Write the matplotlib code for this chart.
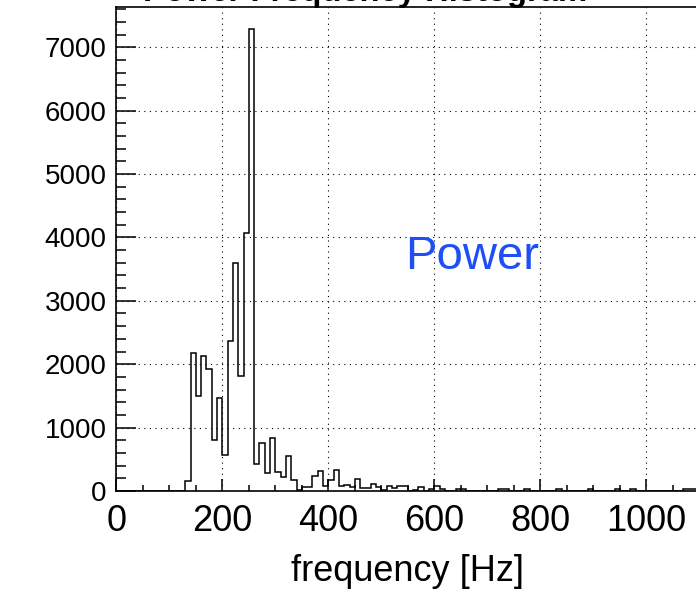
# Power frequency histogram (ROOT style)
import numpy as np
import matplotlib
matplotlib.use('Agg')
import matplotlib.pyplot as plt
from matplotlib.ticker import MultipleLocator

plt.rcParams['font.family'] = ['Liberation Sans', 'DejaVu Sans']

# histogram: 10 Hz bins starting at 0 Hz
bin_width = 10
counts = [
    0, 0, 0, 0, 0, 0, 0, 0, 0, 0,                 # 0-100
    0, 0, 0, 150, 2170, 1500, 2130, 1930, 800, 1460,  # 100-200
    570, 2370, 3590, 1820, 4070, 7290, 420, 750, 290, 840,  # 200-300
    305, 216, 553, 180, 20, 70, 70, 238, 317, 80,  # 300-400
    170, 333, 80, 96, 60, 196, 45, 45, 107, 70,   # 400-500
    17, 80, 45, 80, 80, 0, 17, 60, 0, 30,         # 500-600
    80, 30, 0, 0, 30, 30, 0, 0, 0, 0,             # 600-700
    0, 0, 25, 25, 0, 0, 0, 25, 0, 0,              # 700-800
    0, 0, 0, 30, 0, 0, 0, 0, 0, 30,               # 800-900
    0, 0, 0, 0, 25, 0, 0, 25, 0, 0,               # 900-1000
    0, 0, 0, 0, 0, 0, 0, 30, 30, 30,              # 1000-1100
]
edges = np.arange(len(counts) + 1) * bin_width

title = "Power Frequency Histogram"
x_label = "frequency [Hz]"
legend_text = "Power"

fig = plt.figure(figsize=(6.96, 5.90), dpi=100)
ax = fig.add_axes([116.3 / 696, 1 - 491 / 590, 583 / 696, 484 / 590])

ax.stairs(counts, edges, color='black', lw=1.1, baseline=0)

ax.set_xlim(0, 1100)
ax.set_ylim(0, 7634)

# ticks
ax.xaxis.set_major_locator(MultipleLocator(200))
ax.xaxis.set_minor_locator(MultipleLocator(50))
ax.yaxis.set_major_locator(MultipleLocator(1000))
ax.yaxis.set_minor_locator(MultipleLocator(200))
ax.tick_params(direction='in', top=False, right=False, which='both', width=1.1)
ax.tick_params(axis='x', which='major', length=8.6, labelsize=26, pad=9.5)
ax.tick_params(axis='x', which='minor', length=4.3)
ax.tick_params(axis='y', which='major', length=14.4, labelsize=20, pad=7)
ax.tick_params(axis='y', which='minor', length=7.2)

for s in ['left', 'bottom', 'top']:
    ax.spines[s].set_linewidth(1.2)
ax.spines['right'].set_visible(False)

# grid
ax.grid(True, which='major', linestyle=(0, (1, 4)), color='black', lw=0.8)

ax.set_xlabel(x_label, fontsize=26, labelpad=10.5)
ax.text(672, 3690, legend_text, color='#1d4ef6', fontsize=34,
        ha='center', va='center')

# title is mostly cut off at the top of the picture
fig.text(365 / 696, 1 - 0.5 / 590, title, fontsize=23.6, fontweight='bold',
         ha='center', va='baseline')

plt.savefig("out.png", dpi=100)
